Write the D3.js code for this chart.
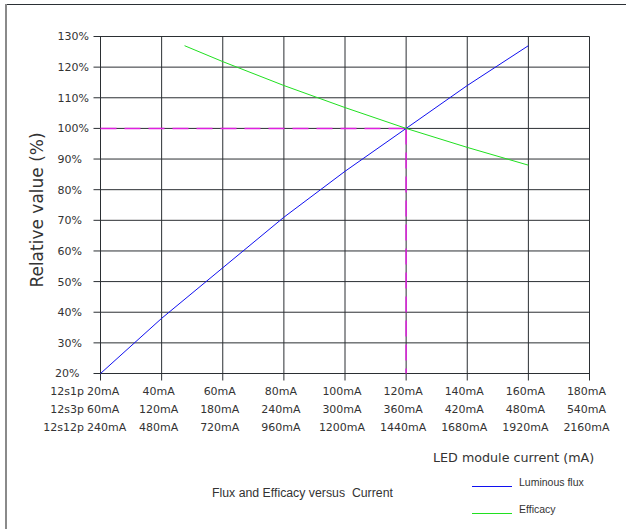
<!DOCTYPE html>
<html>
<head>
<meta charset="utf-8">
<script src="https://cdn.jsdelivr.net/npm/d3@7/dist/d3.min.js"></script>
<style>
  html, body { margin: 0; padding: 0; background: #fff; }
  svg { display: block; }
  .tick-label { font-family: "DejaVu Sans", Verdana, sans-serif; font-size: 11px; fill: #333; }
  .sans { font-family: "Liberation Sans", Arial, sans-serif; fill: #333; }
</style>
</head>
<body>
<script>
// Relative value axis (%)
const yTicks = [20, 30, 40, 50, 60, 70, 80, 90, 100, 110, 120, 130];
// Module current per configuration, one row per string layout
const xTicks = [20, 40, 60, 80, 100, 120, 140, 160, 180];
const configNames = ["12s1p", "12s3p", "12s12p"];
const current1p = ["20mA", "40mA", "60mA", "80mA", "100mA", "120mA", "140mA", "160mA", "180mA"];
const current3p = ["60mA", "120mA", "180mA", "240mA", "300mA", "360mA", "420mA", "480mA", "540mA"];
const current12p = ["240mA", "480mA", "720mA", "960mA", "1200mA", "1440mA", "1680mA", "1920mA", "2160mA"];

// Luminous flux, relative to the 120mA (12s1p) nominal point
const fluxCurrent = [20, 40, 60, 80, 100, 120, 140, 160];
const fluxValue = [20, 38, 54.5, 71, 86, 100, 114, 127];
// Efficacy, relative to the nominal point
const effCurrent = [47.5, 60, 80, 100, 120, 140, 160];
const effValue = [127, 121.8, 114, 106.8, 100, 93.8, 88];

// Nominal reference point
const refCurrent = 120;
const refValue = 100;

const W = 626, H = 529;
const svg = d3.select("body").append("svg").attr("width", W).attr("height", H);

const x = d3.scaleLinear().domain([20, 180]).range([100.5, 589.5]);
const y = d3.scaleLinear().domain([20, 130]).range([373.5, 36.5]);

// Page frame
svg.append("line").attr("x1", 5).attr("x2", W).attr("y1", 4.5).attr("y2", 4.5)
  .attr("stroke", "#2b3035").attr("stroke-width", 1);
svg.append("line").attr("x1", 6).attr("x2", 6).attr("y1", 4).attr("y2", H)
  .attr("stroke", "#8a8a8a").attr("stroke-width", 2);

// Grid
const grid = svg.append("g");
grid.selectAll("line.h").data(yTicks).join("line").attr("class", "h")
  .attr("x1", x(20) - 7).attr("x2", x(180))
  .attr("y1", d => y(d)).attr("y2", d => y(d))
  .attr("stroke", "#2b2f33").attr("stroke-width", 1);
grid.selectAll("line.v").data(xTicks).join("line").attr("class", "v")
  .attr("x1", d => x(d)).attr("x2", d => x(d))
  .attr("y1", y(130)).attr("y2", y(20) + 7)
  .attr("stroke", "#2b2f33").attr("stroke-width", 1);

// Y tick labels
svg.append("g").selectAll("text").data(yTicks).join("text")
  .attr("class", "tick-label")
  .attr("x", d => d === 20 ? 55 : 57.5).attr("y", d => y(d)).attr("dy", "0.36em")
  .text(d => d + "%");

// X tick labels, three rows
const rows = [current1p, current3p, current12p];
const rowBase = [395, 413, 431];
rows.forEach((labels, r) => {
  const g = svg.append("g");
  g.append("text").attr("class", "tick-label")
    .attr("x", 84).attr("y", rowBase[r]).attr("text-anchor", "end")
    .text(configNames[r]);
  g.selectAll("text.v").data(xTicks).join("text").attr("class", "tick-label v")
    .attr("x", (d, i) => i === 0 ? 87 : x(d) - 3)
    .attr("y", rowBase[r])
    .attr("text-anchor", (d, i) => i === 0 ? "start" : "middle")
    .text((d, i) => labels[i]);
});

// Reference markers at the nominal point
svg.append("path")
  .attr("d", `M${x(20)},${y(refValue)}H${x(refCurrent)}`)
  .attr("fill", "none").attr("stroke", "#e020e0").attr("stroke-width", 1.5)
  .attr("stroke-dasharray", "16,8");
svg.append("path")
  .attr("d", `M${x(refCurrent)},${y(refValue)}V${y(20)}`)
  .attr("fill", "none").attr("stroke", "#e020e0").attr("stroke-width", 1.5)
  .attr("stroke-dasharray", "16,8");

// Curves
const line = d3.line().x(d => x(d[0])).y(d => y(d[1]));
svg.append("path")
  .attr("d", line(d3.zip(fluxCurrent, fluxValue)))
  .attr("fill", "none").attr("stroke", "#1010f0").attr("stroke-width", 1);
svg.append("path")
  .attr("d", line(d3.zip(effCurrent, effValue)))
  .attr("fill", "none").attr("stroke", "#20e020").attr("stroke-width", 1);

// Axis titles
svg.append("text")
  .attr("transform", "translate(43,210) rotate(-90)")
  .attr("text-anchor", "middle")
  .style("font-family", "'DejaVu Sans', Verdana, sans-serif")
  .style("font-size", "17px").style("fill", "#333")
  .text("Relative value (%)");
svg.append("text")
  .attr("x", 433).attr("y", 462)
  .style("font-family", "'DejaVu Sans', Verdana, sans-serif")
  .style("font-size", "12.7px").style("fill", "#333")
  .text("LED module current (mA)");

// Caption
svg.append("text").attr("class", "sans")
  .attr("x", 212).attr("y", 497)
  .style("font-size", "12.3px").style("white-space", "pre")
  .text("Flux and Efficacy versus  Current");

// Legend
const legend = [
  { name: "Luminous flux", color: "#1010f0", y: 486 },
  { name: "Efficacy", color: "#20e020", y: 513 }
];
const lg = svg.append("g");
lg.selectAll("line").data(legend).join("line")
  .attr("x1", 472).attr("x2", 512)
  .attr("y1", d => d.y + 0.5).attr("y2", d => d.y + 0.5)
  .attr("stroke", d => d.color).attr("stroke-width", 1);
lg.selectAll("text").data(legend).join("text").attr("class", "sans")
  .attr("x", 519).attr("y", d => d.y - 4).attr("dy", "0.35em")
  .style("font-size", "10.5px")
  .text(d => d.name);
</script>
</body>
</html>
